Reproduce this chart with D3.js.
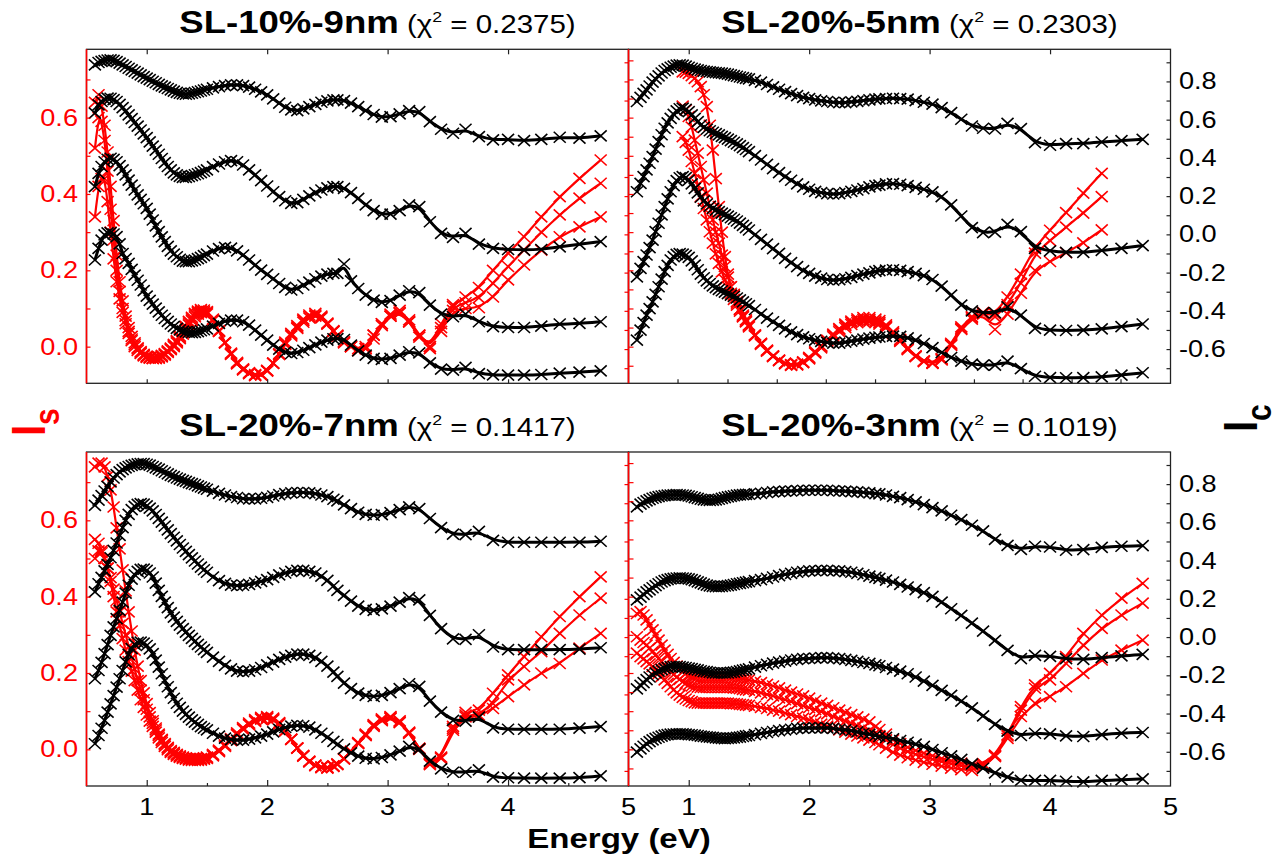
<!DOCTYPE html>
<html>
<head>
<meta charset="utf-8">
<script src="https://cdn.jsdelivr.net/npm/d3@7"></script>
<style>
  body { margin: 0; background: #fff; }
  svg { display: block; }
  text { font-family: "Liberation Sans", Arial, sans-serif; }
</style>
</head>
<body>
<script>
// photon energy of every measured point (eV); above 2.55 eV the points sit on a 10 nm wavelength grid
const energy = [0.57,0.600,0.625,0.650,0.675,0.700,0.725,0.750,0.775,0.800,0.825,0.850,0.875,0.900,0.925,0.950,0.975,1.000,
  1.025,1.050,1.075,1.100,1.125,1.150,1.175,1.200,1.225,1.250,1.275,1.300,1.325,1.350,1.375,1.400,1.425,1.450,1.475,1.500,
  1.55,1.60,1.65,1.70,1.75,1.80,1.85,1.90,1.95,2.00,
  2.05,2.10,2.15,2.20,2.25,2.30,2.35,2.40,2.45,2.50,
  2.55,
  2.583,2.638,2.696,2.756,2.818,2.884,2.952,3.024,3.100,3.179,
  3.263,3.351,3.444,3.543,3.647,3.758,3.875,4.000,4.133,4.276,
  4.429,4.593,4.769];

const titles = ["SL-10%-9nm", "SL-20%-5nm", "SL-20%-7nm", "SL-20%-3nm"];
const chi2 = ["0.2375", "0.2303", "0.1417", "0.1019"];

const energyMajor = [1, 2, 3, 4];
const energyMinor = [1.5, 2.5, 3.5, 4.5];
const energyLabels = [1, 2, 3, 4, 5];
const trBottomTicks = [0.907, 1.322, 1.731, 2.138, 2.547, 2.962, 3.368, 3.772, 4.179, 4.585];
const isLabels = [0, 0.2, 0.4, 0.6];
const isTicks = [0, 0.1, 0.2, 0.3, 0.4, 0.5, 0.6, 0.7];
const isTicksFine = [-0.05, 0, 0.05, 0.1, 0.15, 0.2, 0.25, 0.3, 0.35, 0.4, 0.45, 0.5, 0.55, 0.6, 0.65, 0.7, 0.75];
const icLabels = [0.8, 0.6, 0.4, 0.2, 0, -0.2, -0.4, -0.6];
const icTicks = [-0.7, -0.6, -0.5, -0.4, -0.3, -0.2, -0.1, 0, 0.1, 0.2, 0.3, 0.4, 0.5, 0.6, 0.7, 0.8, 0.9];

// ---- SL-10%-9nm (top left)
const tl_ic1 = [0.887,0.899,0.905,0.909,0.912,0.913,0.910,0.904,0.896,0.887,0.878,0.869,0.860,0.852,0.843,0.834,0.825,0.817,
  0.809,0.801,0.793,0.785,0.777,0.770,0.763,0.756,0.749,0.743,0.738,0.735,0.733,0.735,0.738,0.742,0.746,0.750,0.755,0.759,
  0.766,0.773,0.778,0.782,0.782,0.778,0.770,0.759,0.745,0.730,
  0.709,0.686,0.665,0.651,0.647,0.656,0.668,0.680,0.691,0.698,
  0.703,
  0.703,0.700,0.686,0.668,0.647,0.627,0.613,0.616,0.630,0.647,
  0.642,0.590,0.550,0.529,0.550,0.511,0.494,0.497,0.490,0.497,
  0.508,0.503,0.515];
const tl_ic2 = [0.634,0.677,0.695,0.707,0.713,0.712,0.705,0.695,0.680,0.663,0.645,0.625,0.605,0.585,0.566,0.546,0.526,0.506,
  0.484,0.462,0.441,0.419,0.397,0.375,0.355,0.337,0.322,0.311,0.303,0.298,0.298,0.302,0.307,0.312,0.317,0.323,0.330,0.337,
  0.354,0.368,0.380,0.386,0.380,0.363,0.337,0.311,0.281,0.253,
  0.223,0.197,0.176,0.162,0.166,0.183,0.201,0.218,0.232,0.243,
  0.250,
  0.250,0.241,0.218,0.188,0.154,0.124,0.106,0.106,0.124,0.154,
  0.145,0.066,0.005,-0.016,0.005,-0.051,-0.073,-0.079,-0.082,-0.079,
  -0.065,-0.051,-0.038];
const tl_ic3 = [0.250,0.319,0.355,0.380,0.393,0.398,0.392,0.380,0.360,0.337,0.311,0.284,0.258,0.232,0.207,0.183,0.160,0.136,
  0.106,0.075,0.044,0.014,-0.013,-0.038,-0.063,-0.086,-0.103,-0.117,-0.130,-0.140,-0.143,-0.143,-0.139,-0.134,-0.127,-0.120,-0.111,-0.103,
  -0.087,-0.075,-0.068,-0.072,-0.086,-0.108,-0.134,-0.161,-0.187,-0.209,
  -0.232,-0.257,-0.277,-0.291,-0.283,-0.265,-0.250,-0.232,-0.218,-0.208,
  -0.204,
  -0.204,-0.155,-0.243,-0.283,-0.318,-0.344,-0.356,-0.347,-0.318,-0.295,
  -0.305,-0.370,-0.417,-0.431,-0.417,-0.457,-0.483,-0.487,-0.487,-0.480,
  -0.469,-0.466,-0.457];
const tl_ic4 = [-0.134,-0.073,-0.030,-0.003,0.008,0.009,0.002,-0.012,-0.050,-0.100,-0.127,-0.152,-0.183,-0.213,-0.240,-0.265,-0.294,-0.323,
  -0.345,-0.365,-0.386,-0.405,-0.423,-0.440,-0.455,-0.469,-0.481,-0.492,-0.500,-0.506,-0.510,-0.513,-0.514,-0.513,-0.509,-0.504,-0.499,-0.494,
  -0.480,-0.466,-0.454,-0.449,-0.449,-0.457,-0.475,-0.501,-0.527,-0.553,
  -0.579,-0.600,-0.616,-0.623,-0.618,-0.606,-0.592,-0.578,-0.564,-0.553,
  -0.546,
  -0.545,-0.550,-0.579,-0.609,-0.632,-0.649,-0.654,-0.649,-0.632,-0.614,
  -0.620,-0.672,-0.705,-0.710,-0.696,-0.728,-0.735,-0.736,-0.736,-0.733,
  -0.726,-0.721,-0.714];
const tl_isA = [0.64,0.66,0.63,0.58,0.51,0.42,0.33,0.24,0.17,0.12,0.08,0.05,0.027,0.01,-0.003,-0.013,-0.02,-0.025,
  -0.028,-0.03,-0.029,-0.027,-0.023,-0.018,-0.011,-0.004,0.006,0.016,0.028,0.04,0.053,0.066,0.077,0.087,0.093,0.097,0.096,0.092,
  0.072,0.042,0.01,-0.02,-0.045,-0.061,-0.071,-0.076,-0.074,-0.063,
  -0.043,-0.018,0.012,0.035,0.055,0.072,0.083,0.087,0.08,0.062,
  0.042,
  0.03,0.01,0.0,-0.01,-0.005,0.03,0.06,0.085,0.095,0.07,
  0.03,0.0,0.06,0.11,0.13,0.155,0.2,0.245,0.288,0.34,
  0.393,0.441,0.489];
const tl_isB = [0.52,0.60,0.59,0.54,0.46,0.36,0.28,0.20,0.145,0.10,0.068,0.04,0.02,0.005,-0.006,-0.016,-0.022,-0.027,
  -0.029,-0.031,-0.031,-0.029,-0.025,-0.02,-0.013,-0.006,0.003,0.013,0.025,0.037,0.05,0.062,0.073,0.083,0.089,0.093,0.092,0.089,
  0.07,0.04,0.01,-0.019,-0.044,-0.06,-0.07,-0.075,-0.074,-0.064,
  -0.044,-0.02,0.008,0.031,0.051,0.068,0.079,0.083,0.077,0.06,
  0.04,
  0.028,0.012,0.0,-0.01,-0.005,0.02,0.055,0.08,0.09,0.065,
  0.025,-0.005,0.05,0.105,0.115,0.128,0.166,0.21,0.253,0.30,
  0.345,0.389,0.428];
const tl_isC = [0.34,0.42,0.44,0.44,0.38,0.30,0.23,0.17,0.125,0.09,0.06,0.035,0.016,0.0,-0.01,-0.018,-0.024,-0.028,
  -0.03,-0.031,-0.031,-0.03,-0.027,-0.022,-0.015,-0.008,0.0,0.01,0.021,0.033,0.045,0.057,0.068,0.078,0.085,0.089,0.088,0.086,
  0.068,0.04,0.011,-0.017,-0.041,-0.058,-0.068,-0.073,-0.072,-0.062,
  -0.043,-0.02,0.006,0.028,0.048,0.064,0.075,0.08,0.075,0.059,
  0.04,
  0.028,0.013,0.0,-0.005,0.0,0.03,0.06,0.08,0.088,0.065,
  0.03,0.0,0.04,0.095,0.1,0.102,0.13,0.175,0.214,0.253,
  0.288,0.314,0.34];

// ---- SL-20%-5nm (top right)
const tr_ic1 = [0.695,0.717,0.737,0.756,0.776,0.796,0.813,0.829,0.844,0.857,0.866,0.874,0.880,0.885,0.887,0.885,0.880,0.874,
  0.869,0.864,0.860,0.857,0.854,0.852,0.850,0.848,0.846,0.845,0.843,0.841,0.838,0.834,0.830,0.827,0.823,0.820,0.816,0.813,
  0.805,0.796,0.784,0.771,0.759,0.747,0.736,0.726,0.717,0.710,
  0.703,0.698,0.695,0.691,0.689,0.689,0.693,0.696,0.700,0.703,
  0.707,
  0.709,0.710,0.712,0.710,0.707,0.700,0.691,0.681,0.663,0.637,
  0.602,0.567,0.555,0.551,0.581,0.553,0.480,0.466,0.475,0.475,
  0.483,0.490,0.497];
const tr_ic2 = [0.223,0.267,0.302,0.337,0.372,0.407,0.446,0.485,0.521,0.555,0.583,0.607,0.628,0.646,0.657,0.660,0.654,0.642,
  0.625,0.607,0.590,0.572,0.560,0.550,0.542,0.534,0.527,0.520,0.513,0.506,0.498,0.490,0.482,0.473,0.464,0.454,0.444,0.433,
  0.412,0.389,0.366,0.344,0.323,0.302,0.283,0.264,0.248,0.236,
  0.225,0.218,0.213,0.211,0.213,0.218,0.225,0.232,0.239,0.248,
  0.255,
  0.258,0.264,0.265,0.262,0.255,0.246,0.236,0.222,0.197,0.154,
  0.096,0.035,0.009,0.012,0.052,0.014,-0.073,-0.086,-0.094,-0.094,
  -0.084,-0.073,-0.059];
const tr_ic3 = [-0.222,-0.178,-0.143,-0.108,-0.069,-0.030,0.014,0.058,0.102,0.145,0.186,0.223,0.255,0.281,0.296,0.302,0.297,0.284,
  0.264,0.241,0.217,0.194,0.175,0.159,0.147,0.136,0.127,0.119,0.111,0.103,0.095,0.087,0.079,0.070,0.059,0.047,0.035,0.023,
  -0.002,-0.026,-0.051,-0.075,-0.099,-0.126,-0.148,-0.169,-0.190,-0.204,
  -0.218,-0.229,-0.236,-0.239,-0.237,-0.232,-0.225,-0.216,-0.208,-0.201,
  -0.194,
  -0.190,-0.187,-0.185,-0.188,-0.195,-0.204,-0.216,-0.236,-0.271,-0.318,
  -0.370,-0.400,-0.410,-0.410,-0.379,-0.422,-0.492,-0.501,-0.503,-0.501,
  -0.494,-0.483,-0.469];
const tr_ic4 = [-0.553,-0.501,-0.462,-0.422,-0.388,-0.353,-0.314,-0.274,-0.234,-0.195,-0.162,-0.134,-0.116,-0.105,-0.101,-0.103,-0.110,-0.120,
  -0.139,-0.161,-0.185,-0.208,-0.227,-0.243,-0.257,-0.269,-0.279,-0.288,-0.295,-0.302,-0.310,-0.318,-0.325,-0.333,-0.343,-0.353,-0.363,-0.373,
  -0.393,-0.417,-0.438,-0.457,-0.476,-0.494,-0.510,-0.524,-0.536,-0.546,
  -0.553,-0.560,-0.565,-0.569,-0.569,-0.564,-0.558,-0.553,-0.548,-0.543,
  -0.539,
  -0.537,-0.534,-0.532,-0.534,-0.541,-0.553,-0.571,-0.592,-0.618,-0.644,
  -0.663,-0.679,-0.684,-0.684,-0.663,-0.702,-0.742,-0.749,-0.750,-0.749,
  -0.745,-0.736,-0.724];
const tr_isA = [null,null,null,null,null,null,null,null,null,null,null,null,null,null,null,0.72,0.719,0.716,
  0.71,0.703,0.694,0.681,0.66,0.629,0.58,0.515,0.44,0.367,0.3,0.236,0.19,0.157,0.133,0.114,0.098,0.083,0.07,0.057,
  0.031,0.009,-0.009,-0.024,-0.035,-0.043,-0.047,-0.046,-0.04,-0.028,
  -0.013,0.002,0.017,0.033,0.047,0.059,0.067,0.073,0.076,0.076,
  0.072,
  0.068,0.057,0.039,0.019,-0.004,-0.024,-0.037,-0.042,-0.031,0.009,
  0.052,0.079,0.087,0.085,0.13,0.19,0.262,0.305,0.351,0.402,
  0.454,null,null];
const tr_isB = [null,null,null,null,null,null,null,null,null,null,null,null,null,null,null,0.63,0.62,0.603,
  0.575,0.541,0.507,0.472,0.437,0.402,0.367,0.332,0.3,0.271,0.24,0.21,0.182,0.157,0.137,0.118,0.098,0.08,0.067,0.055,
  0.03,0.008,-0.01,-0.025,-0.036,-0.044,-0.048,-0.047,-0.041,-0.03,
  -0.015,0.0,0.015,0.03,0.044,0.055,0.063,0.068,0.071,0.071,
  0.067,
  0.063,0.053,0.036,0.016,-0.006,-0.025,-0.038,-0.043,-0.033,0.006,
  0.048,0.076,0.09,0.078,0.11,0.166,0.245,0.278,0.313,0.350,
  0.393,null,null];
const tr_isC = [null,null,null,null,null,null,null,null,null,null,null,null,null,null,null,0.55,0.535,0.515,
  0.485,0.454,0.424,0.393,0.362,0.332,0.301,0.271,0.243,0.218,0.196,0.175,0.157,0.14,0.124,0.109,0.093,0.078,0.065,0.052,
  0.028,0.006,-0.012,-0.026,-0.037,-0.045,-0.049,-0.048,-0.042,-0.032,
  -0.017,-0.003,0.012,0.026,0.039,0.05,0.058,0.063,0.066,0.066,
  0.063,
  0.059,0.05,0.034,0.014,-0.008,-0.026,-0.039,-0.044,-0.035,0.003,
  0.045,0.072,0.085,0.045,0.085,0.14,0.2,0.223,0.246,0.272,
  0.306,null,null];

// ---- SL-20%-7nm (bottom left)
const bl_ic1 = [0.689,0.716,0.740,0.764,0.788,0.812,0.832,0.850,0.864,0.876,0.885,0.892,0.898,0.902,0.906,0.908,0.907,0.904,
  0.899,0.892,0.885,0.878,0.870,0.862,0.854,0.846,0.839,0.832,0.826,0.820,0.814,0.808,0.803,0.798,0.791,0.785,0.779,0.773,
  0.763,0.752,0.743,0.735,0.730,0.724,0.723,0.723,0.726,0.731,
  0.738,0.745,0.750,0.754,0.756,0.756,0.754,0.750,0.743,0.735,
  0.721,
  0.712,0.691,0.672,0.653,0.642,0.637,0.640,0.651,0.667,0.681,
  0.672,0.620,0.572,0.538,0.536,0.553,0.506,0.496,0.496,0.496,
  0.496,0.496,0.501];
const bl_ic2 = [0.236,0.279,0.312,0.346,0.380,0.415,0.453,0.492,0.532,0.572,0.610,0.642,0.667,0.684,0.694,0.698,0.695,0.686,
  0.674,0.660,0.641,0.621,0.601,0.581,0.561,0.541,0.522,0.503,0.484,0.466,0.448,0.431,0.414,0.398,0.382,0.366,0.352,0.339,
  0.314,0.295,0.281,0.272,0.269,0.271,0.276,0.283,0.291,0.300,
  0.312,0.325,0.335,0.344,0.349,0.349,0.344,0.335,0.319,0.297,
  0.267,
  0.244,0.218,0.188,0.162,0.145,0.140,0.147,0.162,0.183,0.206,
  0.195,0.113,0.044,-0.009,-0.012,0.012,-0.052,-0.066,-0.066,-0.066,
  -0.066,-0.063,-0.056];
const bl_ic3 = [-0.218,-0.175,-0.132,-0.087,-0.040,0.009,0.053,0.096,0.140,0.183,0.230,0.271,0.303,0.326,0.344,0.354,0.355,0.349,
  0.335,0.314,0.282,0.244,0.213,0.183,0.154,0.127,0.104,0.082,0.062,0.044,0.026,0.009,-0.007,-0.023,-0.038,-0.052,-0.066,-0.080,
  -0.105,-0.127,-0.148,-0.166,-0.178,-0.181,-0.178,-0.171,-0.159,-0.145,
  -0.131,-0.117,-0.105,-0.096,-0.089,-0.089,-0.096,-0.108,-0.127,-0.152,
  -0.183,
  -0.206,-0.241,-0.270,-0.293,-0.305,-0.311,-0.305,-0.291,-0.270,-0.244,
  -0.258,-0.335,-0.393,-0.436,-0.440,-0.419,-0.475,-0.482,-0.482,-0.482,
  -0.482,-0.476,-0.468];
const bl_ic4 = [-0.558,-0.515,-0.477,-0.436,-0.393,-0.349,-0.306,-0.262,-0.218,-0.175,-0.130,-0.091,-0.060,-0.038,-0.027,-0.026,-0.032,-0.044,
  -0.062,-0.087,-0.121,-0.157,-0.192,-0.227,-0.260,-0.291,-0.320,-0.346,-0.368,-0.387,-0.404,-0.419,-0.433,-0.445,-0.457,-0.468,-0.477,-0.485,
  -0.503,-0.518,-0.529,-0.536,-0.539,-0.539,-0.534,-0.527,-0.518,-0.508,
  -0.496,-0.483,-0.473,-0.466,-0.462,-0.464,-0.471,-0.485,-0.503,-0.524,
  -0.546,
  -0.562,-0.585,-0.606,-0.623,-0.634,-0.637,-0.630,-0.616,-0.597,-0.572,
  -0.585,-0.649,-0.689,-0.707,-0.707,-0.695,-0.733,-0.736,-0.738,-0.738,
  -0.738,-0.735,-0.726];
const bl_isA = [0.74,0.75,0.75,0.74,0.715,0.68,0.635,0.58,0.525,0.47,0.415,0.36,0.31,0.26,0.218,0.18,0.148,0.12,
  0.096,0.075,0.056,0.04,0.026,0.015,0.005,-0.003,-0.008,-0.013,-0.017,-0.02,-0.022,-0.024,-0.025,-0.025,-0.025,-0.024,-0.022,-0.02,
  -0.013,-0.002,0.012,0.028,0.043,0.057,0.069,0.078,0.084,0.086,
  0.082,0.07,0.05,0.027,0.003,-0.018,-0.033,-0.043,-0.048,-0.049,
  -0.045,
  -0.04,-0.025,-0.005,0.018,0.04,0.065,0.08,0.086,0.075,0.045,
  0.0,-0.04,-0.02,0.06,0.097,0.103,0.147,0.195,0.243,0.295,
  0.348,0.4,0.452];
const bl_isB = [0.55,0.54,0.52,0.50,0.475,0.45,0.42,0.39,0.36,0.33,0.30,0.27,0.24,0.21,0.18,0.155,0.13,0.105,
  0.085,0.068,0.051,0.036,0.023,0.012,0.003,-0.005,-0.01,-0.015,-0.019,-0.022,-0.024,-0.026,-0.027,-0.027,-0.027,-0.026,-0.024,-0.022,
  -0.015,-0.004,0.01,0.025,0.04,0.054,0.066,0.075,0.081,0.083,
  0.079,0.068,0.049,0.026,0.003,-0.017,-0.032,-0.042,-0.047,-0.048,
  -0.044,
  -0.039,-0.025,-0.006,0.016,0.038,0.062,0.077,0.083,0.072,0.043,
  0.002,-0.038,-0.022,0.055,0.09,0.09,0.12,0.182,0.217,0.256,
  0.304,0.352,0.396];
const bl_isC = [0.50,0.52,0.515,0.50,0.475,0.44,0.40,0.36,0.325,0.29,0.26,0.23,0.205,0.18,0.155,0.13,0.11,0.09,
  0.074,0.06,0.045,0.03,0.018,0.008,-0.001,-0.008,-0.013,-0.018,-0.021,-0.024,-0.026,-0.028,-0.029,-0.029,-0.029,-0.028,-0.026,-0.024,
  -0.017,-0.006,0.008,0.023,0.038,0.052,0.064,0.073,0.079,0.081,
  0.077,0.066,0.048,0.026,0.004,-0.016,-0.031,-0.041,-0.046,-0.047,
  -0.043,
  -0.038,-0.024,-0.006,0.015,0.036,0.06,0.075,0.081,0.07,0.042,
  0.003,-0.036,-0.024,0.05,0.085,0.086,0.107,0.138,0.169,0.2,
  0.225,0.265,0.304];

// ---- SL-20%-3nm (bottom right)
const br_ic1 = [0.681,0.695,0.704,0.712,0.719,0.726,0.731,0.735,0.738,0.740,0.742,0.743,0.744,0.745,0.744,0.743,0.741,0.738,
  0.734,0.729,0.725,0.721,0.718,0.716,0.715,0.716,0.718,0.721,0.725,0.729,0.733,0.736,0.739,0.742,0.744,0.745,0.746,0.747,
  0.749,0.752,0.756,0.759,0.761,0.763,0.764,0.766,0.768,0.768,
  0.768,0.768,0.768,0.766,0.764,0.763,0.761,0.759,0.757,0.754,
  0.750,
  0.749,0.743,0.736,0.729,0.719,0.707,0.693,0.677,0.660,0.637,
  0.614,0.585,0.555,0.511,0.480,0.459,0.475,0.471,0.454,0.457,
  0.469,0.475,0.478];
const br_ic2 = [0.195,0.209,0.223,0.236,0.247,0.258,0.269,0.279,0.288,0.295,0.300,0.304,0.307,0.309,0.310,0.309,0.307,0.304,
  0.300,0.295,0.289,0.283,0.277,0.272,0.268,0.265,0.264,0.264,0.265,0.267,0.269,0.272,0.275,0.279,0.281,0.284,0.287,0.290,
  0.295,0.300,0.307,0.314,0.321,0.328,0.333,0.339,0.342,0.346,
  0.347,0.349,0.349,0.347,0.346,0.342,0.339,0.333,0.326,0.319,
  0.312,
  0.307,0.298,0.288,0.276,0.262,0.248,0.232,0.213,0.183,0.148,
  0.113,0.073,0.031,-0.017,-0.070,-0.113,-0.096,-0.101,-0.113,-0.117,
  -0.108,-0.098,-0.091];
const br_ic3 = [-0.271,-0.253,-0.238,-0.223,-0.209,-0.197,-0.187,-0.178,-0.170,-0.164,-0.159,-0.155,-0.154,-0.154,-0.155,-0.157,-0.159,-0.162,
  -0.165,-0.169,-0.172,-0.176,-0.179,-0.181,-0.184,-0.187,-0.188,-0.188,-0.188,-0.188,-0.187,-0.185,-0.183,-0.180,-0.177,-0.173,-0.170,-0.166,
  -0.157,-0.150,-0.143,-0.136,-0.131,-0.126,-0.120,-0.117,-0.113,-0.112,
  -0.110,-0.108,-0.108,-0.110,-0.113,-0.117,-0.122,-0.127,-0.133,-0.138,
  -0.145,
  -0.150,-0.159,-0.168,-0.178,-0.192,-0.209,-0.230,-0.253,-0.279,-0.305,
  -0.335,-0.370,-0.412,-0.457,-0.492,-0.515,-0.503,-0.506,-0.517,-0.520,
  -0.510,-0.503,-0.499];
const br_ic4 = [-0.602,-0.585,-0.571,-0.558,-0.547,-0.538,-0.530,-0.524,-0.518,-0.513,-0.510,-0.508,-0.507,-0.506,-0.506,-0.506,-0.508,-0.510,
  -0.511,-0.513,-0.515,-0.518,-0.520,-0.522,-0.523,-0.525,-0.527,-0.529,-0.530,-0.531,-0.530,-0.529,-0.527,-0.525,-0.523,-0.520,-0.517,-0.515,
  -0.510,-0.504,-0.499,-0.494,-0.489,-0.485,-0.482,-0.478,-0.476,-0.475,
  -0.475,-0.475,-0.475,-0.478,-0.482,-0.485,-0.490,-0.496,-0.503,-0.508,
  -0.515,
  -0.520,-0.525,-0.532,-0.541,-0.550,-0.560,-0.572,-0.588,-0.605,-0.621,
  -0.640,-0.663,-0.686,-0.710,-0.733,-0.750,-0.750,-0.750,-0.754,-0.757,
  -0.750,-0.747,-0.742];
const br_isA = [0.356,0.361,0.352,0.339,0.326,0.313,0.300,0.286,0.273,0.260,0.249,0.238,0.228,0.218,0.210,0.203,0.199,0.195,
  0.192,0.190,0.189,0.189,0.189,0.189,0.189,0.189,0.189,0.189,0.189,0.189,0.189,0.188,0.187,0.186,0.185,0.184,0.183,0.182,
  0.178,0.175,0.170,0.166,0.161,0.155,0.150,0.145,0.140,0.134,
  0.128,0.121,0.115,0.109,0.103,0.097,0.091,0.085,0.079,0.072,
  0.060,
  0.052,0.040,0.025,0.015,0.005,-0.003,-0.010,-0.017,-0.024,-0.030,
  -0.036,-0.040,-0.037,-0.015,0.038,0.112,0.169,0.199,0.243,0.304,
  0.352,0.396,0.435];
const br_isB = [0.295,0.286,0.280,0.273,0.265,0.256,0.247,0.238,0.230,0.221,0.212,0.203,0.196,0.189,0.183,0.177,0.173,0.169,
  0.166,0.164,0.163,0.162,0.162,0.162,0.162,0.162,0.162,0.162,0.162,0.162,0.162,0.162,0.161,0.160,0.159,0.157,0.156,0.155,
  0.152,0.148,0.144,0.140,0.135,0.130,0.125,0.120,0.114,0.109,
  0.104,0.099,0.093,0.086,0.080,0.074,0.068,0.062,0.056,0.050,
  0.042,
  0.036,0.025,0.012,0.003,-0.006,-0.013,-0.020,-0.026,-0.032,-0.038,
  -0.043,-0.047,-0.041,-0.017,0.035,0.103,0.160,0.182,0.225,0.273,
  0.317,0.352,0.383];
const br_isC = [0.252,0.243,0.237,0.230,0.224,0.217,0.208,0.199,0.191,0.182,0.173,0.164,0.156,0.148,0.142,0.136,0.132,0.128,
  0.125,0.122,0.121,0.121,0.121,0.121,0.121,0.121,0.121,0.121,0.121,0.121,0.121,0.120,0.120,0.119,0.118,0.117,0.116,0.115,
  0.113,0.110,0.107,0.103,0.100,0.095,0.091,0.086,0.082,0.077,
  0.072,0.066,0.061,0.056,0.051,0.045,0.040,0.035,0.030,0.024,
  0.018,
  0.012,0.003,-0.008,-0.015,-0.022,-0.028,-0.034,-0.039,-0.044,-0.049,
  -0.053,-0.055,-0.046,-0.019,0.029,0.086,0.121,0.138,0.164,0.199,
  0.234,0.260,0.286];

// ---------------------------------------------------------------
const W = 1285, H = 863;
const panelW = 542, panelH = 334;
const panelX = [86.5, 628.5], panelY = [49.3, 452];
const sx = 1.18;          // the reference glyphs are a bit wider than Arial
const red = "#ff0000";
const markerPath = "M-6,-5.5L6,5.5M-6,5.5L6,-5.5";

const panels = [
  { col: 0, row: 0, ic: [tl_ic1, tl_ic2, tl_ic3, tl_ic4], is: [tl_isA, tl_isB, tl_isC] },
  { col: 1, row: 0, ic: [tr_ic1, tr_ic2, tr_ic3, tr_ic4], is: [tr_isA, tr_isB, tr_isC] },
  { col: 0, row: 1, ic: [bl_ic1, bl_ic2, bl_ic3, bl_ic4], is: [bl_isA, bl_isB, bl_isC] },
  { col: 1, row: 1, ic: [br_ic1, br_ic2, br_ic3, br_ic4], is: [br_isA, br_isB, br_isC] }
];

const x = d3.scaleLinear().domain([0.5, 5]).range([0, panelW]);
const yS = d3.scaleLinear().domain([-0.096, 0.779]).range([panelH, 0]);
const yC = d3.scaleLinear().domain([-0.779, 0.968]).range([panelH, 0]);

const svg = d3.select("body").append("svg")
  .attr("width", W).attr("height", H)
  .attr("xmlns", "http://www.w3.org/2000/svg");

function label(g, px, py, txt, size, opts) {
  opts = opts || {};
  return g.append("text")
    .attr("transform", `translate(${px},${py}) scale(${opts.sx || sx},1)`)
    .attr("text-anchor", opts.anchor || "start")
    .attr("font-size", size)
    .attr("font-weight", opts.weight || "normal")
    .attr("fill", opts.fill || "#000")
    .text(txt);
}

function drawSeries(g, vals, y, color, lw) {
  const pts = energy.map((e, i) => [e, vals[i]]).filter(d => d[1] != null);
  const sg = g.append("g");
  sg.selectAll("path.mk").data(pts).join("path")
    .attr("class", "mk")
    .attr("d", markerPath)
    .attr("transform", d => `translate(${x(d[0]).toFixed(2)},${y(d[1]).toFixed(2)})`)
    .attr("fill", "none")
    .attr("stroke", color)
    .attr("stroke-width", 1.6);
  sg.append("path").datum(pts)
    .attr("d", d3.line().x(d => x(d[0])).y(d => y(d[1])).curve(d3.curveBasis))
    .attr("fill", "none")
    .attr("stroke", color)
    .attr("stroke-width", lw)
    .attr("stroke-linejoin", "round");
}

function ticks(g, axis, color) {
  g.call(axis).attr("color", color);
  g.select(".domain").remove();
  g.selectAll(".tick line").attr("stroke-width", 1.2);
}

panels.forEach((p, k) => {
  const g = svg.append("g").attr("transform", `translate(${panelX[p.col]},${panelY[p.row]})`);

  p.is.forEach(s => drawSeries(g, s, yS, red, 2.2));
  p.ic.forEach(s => drawSeries(g, s, yC, "#000", 3));

  // frame
  g.append("rect").attr("width", panelW).attr("height", panelH)
    .attr("fill", "none").attr("stroke", "#222").attr("stroke-width", 1.3);

  // energy ticks
  if (p.row === 0) {
    ticks(g.append("g"), d3.axisBottom(x).tickValues(energyMajor).tickSize(5).tickFormat(""), "#222");
    const bt = p.col === 0 ? energyMajor : trBottomTicks;
    ticks(g.append("g").attr("transform", `translate(0,${panelH})`),
      d3.axisTop(x).tickValues(bt).tickSize(4).tickFormat(""), "#222");
  } else {
    ticks(g.append("g").attr("transform", `translate(0,${panelH})`),
      d3.axisTop(x).tickValues(energyMajor).tickSize(6).tickFormat(""), "#222");
    ticks(g.append("g").attr("transform", `translate(0,${panelH})`),
      d3.axisTop(x).tickValues(energyMinor).tickSize(3).tickFormat(""), "#222");
    energyLabels.forEach(v => label(g, x(v), panelH + 29, String(v), 23, { anchor: "middle" }));
  }

  if (p.col === 0) {
    ticks(g.append("g"), d3.axisRight(yS).tickValues(isTicks).tickSize(4).tickFormat(""), red);
    ticks(g.append("g").attr("transform", `translate(${panelW},0)`),
      d3.axisLeft(yC).tickValues(icTicks).tickSize(4).tickFormat(""), red);
    isLabels.forEach(v => label(g, -8.5, yS(v) + 8, v.toFixed(1), 23, { anchor: "end", fill: red }));
  } else {
    ticks(g.append("g"), d3.axisRight(yS).tickValues(isTicksFine).tickSize(5).tickFormat(""), red);
    ticks(g.append("g").attr("transform", `translate(${panelW},0)`),
      d3.axisLeft(yC).tickValues(icTicks).tickSize(4).tickFormat(""), "#222");
    icLabels.forEach(v => label(g, panelW + 8.5, yC(v) + 8, v.toFixed(1), 23));
  }
  // red Is axis line on the left edge
  g.append("line").attr("x1", 0).attr("x2", 0).attr("y1", 0).attr("y2", panelH)
    .attr("stroke", red).attr("stroke-width", 1.6);

  // title
  const t = svg.append("text")
    .attr("transform", `translate(${panelX[p.col] + panelW / 2 + 20},${panelY[p.row] - 16}) scale(${sx},1)`)
    .attr("text-anchor", "middle");
  t.append("tspan").attr("font-size", 31).attr("font-weight", "bold").text(titles[k]);
  t.append("tspan").attr("font-size", 25).text(" (\u03c7");
  t.append("tspan").attr("font-size", 15).attr("dy", -11).text("2");
  t.append("tspan").attr("font-size", 25).attr("dy", 11).text(" = " + chi2[k] + ")");
});

// axis titles
label(svg, 619, 848, "Energy (eV)", 28, { anchor: "middle", weight: "bold" });

const ls = svg.append("text")
  .attr("transform", `translate(45,436) scale(${sx},1) rotate(-90)`)
  .attr("fill", red).attr("font-weight", "bold");
ls.append("tspan").attr("font-size", 40).text("I");
ls.append("tspan").attr("font-size", 30).attr("dy", 12).text("s");

const lc = svg.append("text")
  .attr("transform", `translate(1257,432) scale(${sx},1) rotate(-90)`)
  .attr("fill", "#000").attr("font-weight", "bold");
lc.append("tspan").attr("font-size", 40).text("I");
lc.append("tspan").attr("font-size", 30).attr("dy", 12).text("c");
</script>
</body>
</html>
